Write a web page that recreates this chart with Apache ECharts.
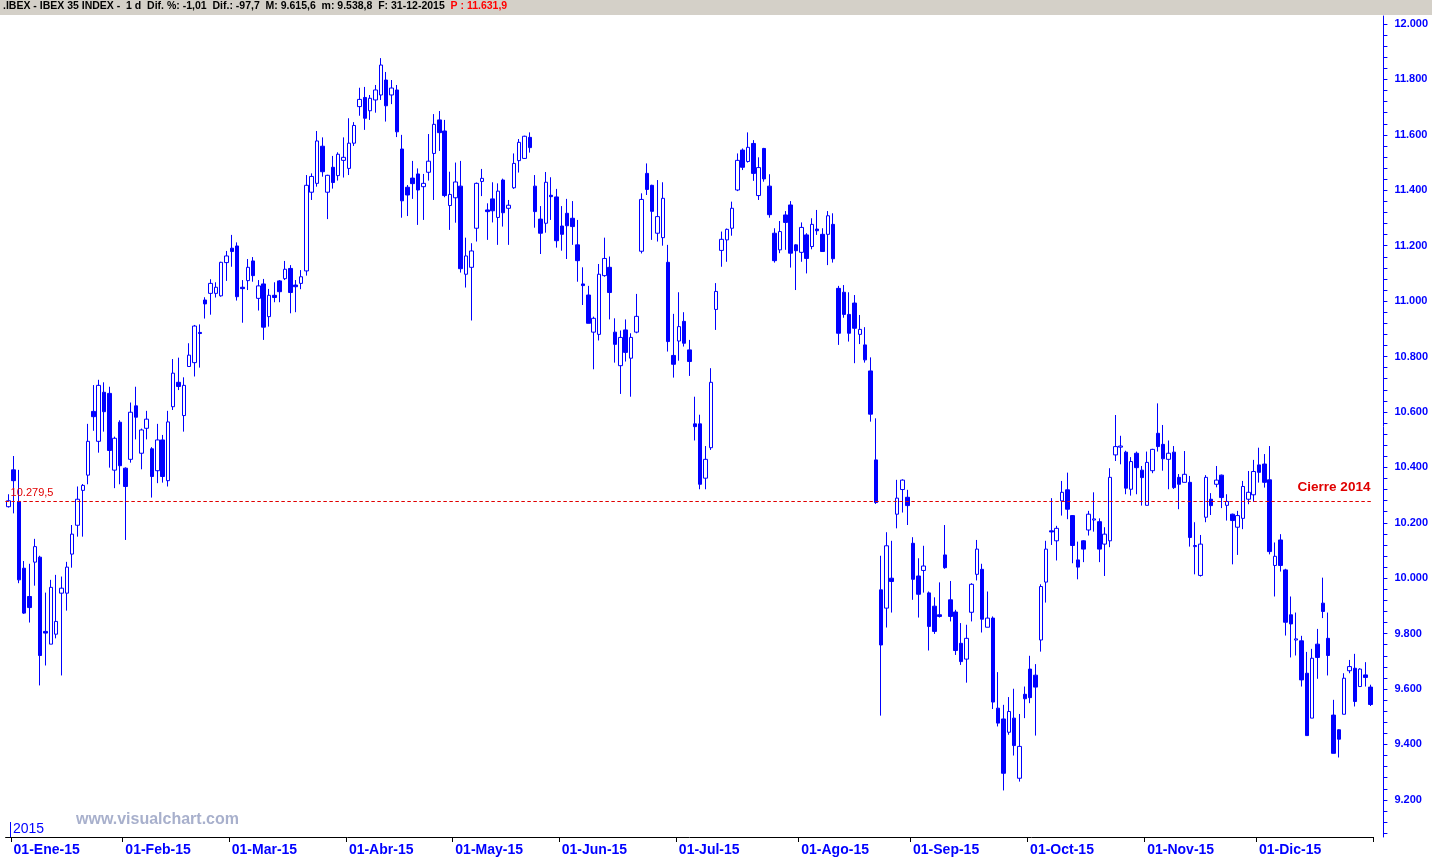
<!DOCTYPE html>
<html><head><meta charset="utf-8">
<script src="https://cdn.jsdelivr.net/npm/echarts@6/dist/echarts.min.js"></script>
<style>html,body{margin:0;padding:0;background:#fff;overflow:hidden}#c{width:1432px;height:857px}</style>
</head><body><div id="c"></div>
<script>
// ---- data (IBEX 35, daily, 31-12-2014 .. 31-12-2015) ----
const opens=[10258,10391,10277,10036,9934,10058,10076,9808,9762,9798,9946,9946,10087,10191,10317,10372,10602,10494,10671,10667,10390,10563,10397,10429,10622,10451,10541,10467,10388,10499,10352,10619,10707,10587,10764,10778,10887,11004,11028,11028,11019,11139,11191,11199,11050,11074,11145,11010,11062,10944,11021,11073,11081,11118,11058,11064,11109,11393,11425,11559,11393,11483,11453,11508,11479,11570,11702,11735,11687,11726,11744,11798,11744,11762,11549,11411,11444,11459,11413,11465,11533,11654,11614,11345,11373,11415,11097,11122,11263,11432,11329,11369,11302,11437,11335,11409,11507,11515,11591,11415,11296,11281,11382,11376,11271,11317,11299,11203,11062,11022,10888,10880,11092,11122,10888,10767,10896,10794,10888,11180,11461,11418,11245,11229,11140,10804,10856,10927,10824,10557,10557,10361,10471,10970,11183,11221,11263,11401,11545,11504,11569,11381,11551,11415,11245,11185,11311,11347,11203,11176,11239,11197,11260,11241,11241,11277,11046,11032,10952,10993,10880,10842,10748,10427,9958,9892,10000,10231,10320,10292,10126,10008,10028,9947,9899,9868,10084,9922,9878,9765,9708,9877,10014,10032,9823,9856,9531,9492,9444,9495,9278,9581,9672,9650,9777,9986,10171,10135,10279,10319,10226,10066,10135,10174,10210,10204,10123,10135,10445,10473,10455,10321,10451,10390,10263,10388,10523,10483,10429,10455,10364,10346,10346,10114,10010,10220,10285,10339,10372,10263,10231,10184,10216,10285,10301,10409,10412,10355,10046,10138,10030,9868,9777,9774,9657,9495,9762,9910,9783,9506,9453,9509,9666,9675,9609,9651,9607];
const highs=[10303,10441,10391,10062,10052,10142,10081,9948,9994,10012,10006,10059,10192,10331,10340,10557,10697,10716,10707,10691,10511,10570,10400,10634,10691,10540,10604,10473,10557,10517,10604,10791,10796,10725,10848,10914,10916,11014,11079,11068,11142,11181,11239,11212,11076,11152,11159,11076,11080,11044,11068,11076,11145,11130,11076,11112,11455,11461,11614,11591,11456,11524,11537,11591,11660,11646,11770,11773,11744,11780,11877,11827,11798,11780,11600,11419,11506,11479,11459,11603,11675,11686,11654,11467,11500,11506,11229,11209,11428,11477,11353,11429,11425,11442,11365,11533,11585,11597,11609,11455,11343,11466,11447,11405,11343,11369,11361,11293,11122,11055,10944,11134,11229,11161,10938,10894,10934,10884,11026,11389,11497,11420,11437,11429,11203,10954,11032,10960,10860,10655,10590,10477,10758,11065,11251,11262,11359,11533,11551,11609,11581,11519,11553,11458,11263,11289,11325,11361,11205,11284,11245,11299,11329,11263,11325,11317,11055,11058,11032,11022,10950,10906,10797,10577,10081,10166,10135,10355,10357,10319,10148,10072,10117,9952,9931,9985,10192,9990,9886,9838,9832,9982,10138,10052,9952,9862,9661,9543,9571,9601,9510,9609,9720,9690,9978,10135,10289,10189,10351,10381,10228,10132,10137,10243,10310,10216,10184,10397,10589,10514,10460,10437,10457,10405,10457,10467,10631,10553,10497,10477,10376,10459,10369,10202,10156,10372,10307,10405,10374,10303,10233,10243,10351,10387,10427,10471,10448,10477,10129,10159,10034,9934,9876,9792,9734,9745,9817,10002,9876,9561,9455,9657,9705,9727,9675,9697,9615.6];
const lows=[10255,10234,9982,9871,9840,9973,9613,9685,9762,9783,9649,9883,10038,10150,10150,10339,10532,10453,10529,10399,10325,10339,10138,10417,10501,10393,10501,10291,10343,10345,10331,10607,10679,10529,10764,10728,10760,10937,10951,11013,11016,11073,11124,11002,10922,11040,11070,10966,10860,10908,10996,10996,11076,10956,10960,11043,11092,11365,11413,11449,11296,11406,11435,11446,11455,11560,11669,11618,11654,11680,11726,11648,11711,11592,11301,11307,11369,11275,11293,11435,11365,11542,11375,11257,11283,11103,11049,10930,11215,11379,11221,11284,11203,11269,11203,11405,11464,11513,11536,11265,11170,11247,11293,11193,11182,11152,11203,11070,10986,10920,10754,10858,11088,10934,10778,10665,10782,10655,10884,11172,11383,11221,11215,11200,10818,10724,10785,10836,10730,10497,10321,10321,10463,10896,11124,11142,11236,11397,11473,11500,11434,11365,11431,11301,11139,11173,11185,11121,11040,11142,11100,11187,11239,11179,11130,11139,10842,10940,10854,10776,10845,10778,10565,10268,9504,9822,9876,10180,10237,10192,9922,9858,9948,9739,9799,9858,10034,9844,9723,9687,9623,9844,9992,9804,9823,9528,9465,9234,9435,9360,9266,9495,9549,9432,9735,9912,10120,10064,10226,10213,10054,9996,10058,10154,10168,10058,10008,10112,10423,10411,10303,10298,10303,10262,10263,10379,10457,10388,10321,10322,10249,10346,10114,10014,10006,10202,10228,10328,10253,10208,10050,10084,10177,10267,10276,10345,10327,10086,9934,10024,9793,9714,9721,9609,9432,9495,9637,9856,9649,9368,9353,9509,9657,9537,9609,9609,9538.8];
const closes=[10279.5,10352,9994,9874,9894,10114,9721,9802,9967,9844,9964,10040,10159,10285,10335,10494,10583,10696,10601,10461,10505,10406,10331,10599,10581,10535,10574,10367,10499,10367,10564,10740,10692,10696,10805,10910,10883,10990,11064,11050,11140,11163,11179,11016,11045,11122,11092,11055,10906,11021,11013,11034,11115,11031,11052,11088,11418,11450,11578,11467,11454,11428,11530,11519,11570,11634,11728,11660,11732,11762,11852,11705,11769,11611,11362,11383,11424,11401,11425,11505,11638,11608,11381,11385,11430,11117,11163,11181,11425,11443,11323,11326,11397,11319,11346,11497,11573,11595,11554,11323,11245,11429,11377,11218,11241,11272,11269,11146,11056,10920,10938,11097,11154,11031,10844,10869,10815,10869,10945,11367,11403,11324,11305,11371,10854,10772,10908,10848,10782,10547,10339,10429,10707,11035,11223,11259,11335,11508,11483,11555,11461,11482,11441,11312,11146,11251,11284,11173,11182,11266,11154,11277,11254,11179,11308,11153,10884,10952,10884,10902,10898,10788,10592,10273,9759,10117,9988,10289,10354,10262,9996,9942,10044,9826,9808,9862,10038,9862,9739,9699,9783,9978,10105,9852,9856,9553,9477,9296,9519,9396,9393,9565,9569,9607,9970,10105,10167,10180,10310,10249,10118,10040,10105,10231,10214,10105,10159,10364,10475,10477,10325,10421,10399,10363,10418,10465,10475,10431,10451,10327,10339,10375,10147,10118,10123,10364,10262,10354,10291,10277,10208,10226,10331,10310,10385,10382,10346,10096,10079,10046,9841,9835,9781,9633,9432,9711,9714,9880,9721,9368,9419,9639,9681,9555,9672,9641.9,9544.2];
const monthNames=['Ene','Feb','Mar','Abr','May','Jun','Jul','Ago','Sep','Oct','Nov','Dic'];
const yTickValues=[9200,9400,9600,9800,10000,10200,10400,10600,10800,11000,11200,11400,11600,11800,12000];
const refValue=10279.5;
const holidays=['2015-01-01','2015-04-03','2015-04-06','2015-05-01','2015-12-25'];

// trading-day categories (calendar)
function buildDays(){
  const out=['2014-12-31'];
  for(let t=Date.UTC(2015,0,1);t<=Date.UTC(2015,11,31);t+=86400000){
    const d=new Date(t);const wd=d.getUTCDay();
    const s=d.toISOString().slice(0,10);
    if(wd===0||wd===6||holidays.indexOf(s)>=0)continue;
    out.push(s);
  }
  return out;
}
const days=buildDays();
const candles=days.map((d,i)=>[opens[i],closes[i],lows[i],highs[i]]);
function isMonthStart(i){return i>0 && days[i].slice(5,7)!==days[i-1].slice(5,7);}
function fmtThousands(v){return String(v).replace(/\B(?=(\d{3})+(?!\d))/g,'.');}
const minorTicks=[];for(let v=9080;v<=12020;v+=40)minorTicks.push(v);

const BLUE='#0000ff', RED='#e00000';
const FONT='Liberation Sans, Arial';
const chart=echarts.init(document.getElementById('c'),null,{renderer:'canvas'});
chart.setOption({
  animation:false,
  backgroundColor:'#ffffff',
  title:{
    left:3, top:1, padding:0,
    text:'{a|.IBEX - IBEX 35 INDEX -  1 d  Dif. %: -1,01  Dif.: -97,7  M: 9.615,6  m: 9.538,8  F: 31-12-2015  }{b|P : 11.631,9}',
    textStyle:{rich:{
      a:{fontFamily:FONT,fontSize:10.5,color:'#000'},
      b:{fontFamily:FONT,fontSize:10.5,color:'#ff0000'}
    }}
  },
  graphic:[
    {type:'rect',z:-1,shape:{x:0,y:0,width:1432,height:15},style:{fill:'#d4d0c8'}},
    {type:'text',left:76,top:812,style:{text:'www.visualchart.com',fill:'#a8b0cc',font:'bold 16px '+FONT}},
    {type:'text',left:13,top:822,style:{text:'2015',fill:BLUE,font:'14px '+FONT}},
    {type:'rect',shape:{x:10,y:822,width:1,height:15},style:{fill:BLUE}}
  ],
  grid:{left:5.6,right:58.6,top:16,bottom:20},
  xAxis:{
    type:'category',data:days,boundaryGap:true,
    axisLine:{show:true,lineStyle:{color:'#000',width:1}},
    axisTick:{show:true,interval:(i)=>isMonthStart(i),length:5,lineStyle:{color:'#000'}},
    axisLabel:{interval:(i)=>isMonthStart(i),align:'left',margin:6,color:BLUE,fontWeight:'bold',
      fontFamily:FONT,fontSize:14,
      formatter:(v)=>'01-'+monthNames[parseInt(v.slice(5,7),10)-1]+'-'+v.slice(2,4)},
    splitLine:{show:false}
  },
  yAxis:[{
    type:'value',position:'right',offset:10,min:9066,max:12029,
    axisLine:{show:true,lineStyle:{color:BLUE,width:1}},
    axisTick:{show:true,customValues:minorTicks,length:4,lineStyle:{color:BLUE}},
    axisLabel:{customValues:yTickValues,formatter:(v)=>fmtThousands(v),color:BLUE,fontWeight:'bold',
      fontFamily:FONT,fontSize:11,margin:11},
    splitLine:{show:false}
  }],
  series:[{
    type:'candlestick',data:candles,barWidth:4,
    itemStyle:{color:'#ffffff',color0:BLUE,borderColor:BLUE,borderColor0:BLUE,borderWidth:1},
    markLine:{
      silent:true,symbol:'none',
      lineStyle:{type:[3,3],color:RED,width:1},
      data:[
        {yAxis:refValue,label:{show:true,position:'insideStartTop',distance:[5,2],formatter:'10.279,5',color:RED,fontSize:11,fontFamily:FONT}},
        {yAxis:refValue,label:{show:true,position:'insideEndTop',distance:[3,6],formatter:'Cierre 2014',color:RED,fontSize:13.5,fontWeight:'bold',fontFamily:FONT}}
      ]
    }
  }]
});
</script></body></html>
